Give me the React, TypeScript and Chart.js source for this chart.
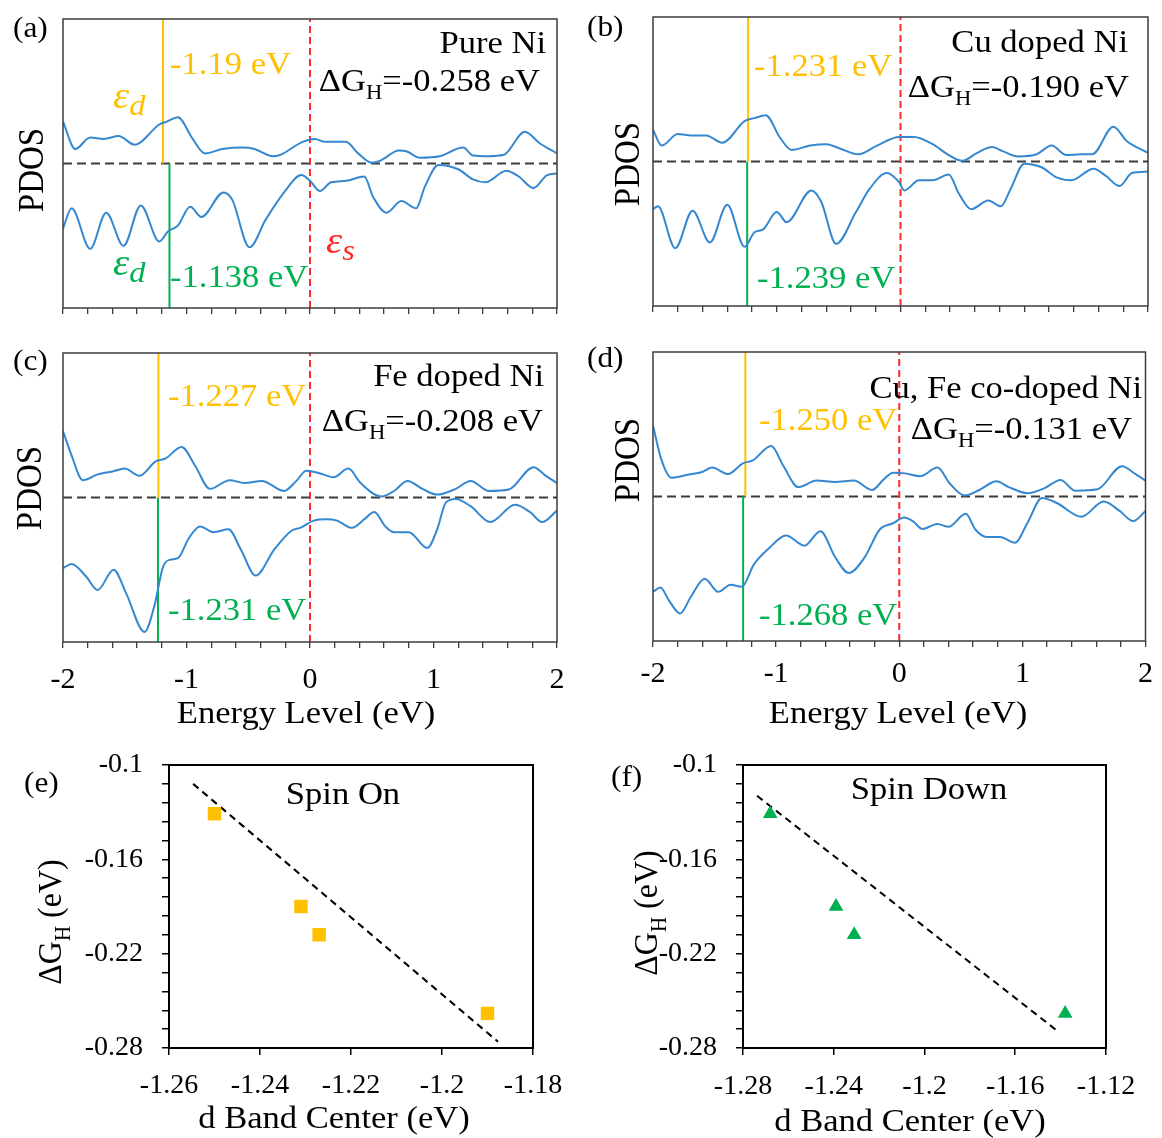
import React, { useEffect, useRef } from 'react';
import { Chart, registerables } from 'chart.js';

Chart.register(...registerables);

const W = 1162;
const H = 1138;
const SERIF = "'Liberation Serif', 'Times New Roman', Times, serif";
const BLUE = '#3588cf';
const GOLD = '#ffc000';
const GREEN = '#00b050';
const RED = '#ff2a2a';
const DARK = '#3c3c3c';
// the figure's lettering is set slightly wide
const TEXT_STRETCH = 1.08;

type Pt = [number, number];

// d-band PDOS (arbitrary units): spin up above the zero line, spin down below it.
const pureNiUp: Pt[] = [
  [-2, 0.29], [-1.9, 0.1], [-1.78, 0.18], [-1.67, 0.17], [-1.55, 0.19], [-1.42, 0.13],
  [-1.22, 0.27], [-1.16, 0.29], [-1.07, 0.32], [-0.95, 0.17], [-0.85, 0.07], [-0.71, 0.1],
  [-0.54, 0.11], [-0.45, 0.1], [-0.3, 0.05], [-0.24, 0.06], [-0.06, 0.15], [0.04, 0.17],
  [0.12, 0.15], [0.29, 0.15], [0.39, 0.07], [0.5, 0.005], [0.57, 0.02], [0.72, 0.09],
  [0.78, 0.085], [0.89, 0.04], [1.05, 0.05], [1.24, 0.11], [1.32, 0.055], [1.44, 0.05],
  [1.57, 0.06], [1.74, 0.22], [1.86, 0.14], [2, 0.07],
];
const pureNiDown: Pt[] = [
  [-2, -0.45], [-1.93, -0.31], [-1.78, -0.59], [-1.65, -0.34], [-1.51, -0.57], [-1.37, -0.29],
  [-1.22, -0.54], [-1.15, -0.47], [-1.07, -0.43], [-0.97, -0.3], [-0.88, -0.37], [-0.7, -0.2],
  [-0.63, -0.25], [-0.49, -0.58], [-0.36, -0.39], [-0.21, -0.2], [-0.07, -0.08], [0, -0.12],
  [0.08, -0.19], [0.17, -0.13], [0.29, -0.12], [0.44, -0.09], [0.51, -0.23], [0.62, -0.34],
  [0.74, -0.26], [0.86, -0.31], [0.93, -0.16], [1.04, -0.01], [1.2, -0.04], [1.32, -0.11],
  [1.42, -0.13], [1.59, -0.05], [1.69, -0.09], [1.81, -0.17], [1.92, -0.08], [2, -0.07],
];
const cuUp: Pt[] = [
  [-2, 0.22], [-1.93, 0.11], [-1.8, 0.19], [-1.69, 0.18], [-1.57, 0.18], [-1.44, 0.13],
  [-1.26, 0.28], [-1.18, 0.3], [-1.09, 0.32], [-0.97, 0.16], [-0.88, 0.08], [-0.73, 0.11],
  [-0.6, 0.12], [-0.49, 0.09], [-0.34, 0.05], [-0.19, 0.11], [-0.01, 0.17], [0.11, 0.17],
  [0.26, 0.12], [0.38, 0.05], [0.5, 0.005], [0.62, 0.06], [0.74, 0.1], [0.83, 0.07],
  [0.95, 0.035], [1.1, 0.05], [1.22, 0.11], [1.34, 0.045], [1.46, 0.05], [1.55, 0.05],
  [1.72, 0.24], [1.83, 0.14], [2, 0.06],
];
const cuDown: Pt[] = [
  [-2, -0.33], [-1.96, -0.31], [-1.82, -0.6], [-1.68, -0.34], [-1.54, -0.56], [-1.4, -0.3],
  [-1.26, -0.59], [-1.18, -0.49], [-1.11, -0.47], [-1, -0.35], [-0.92, -0.42], [-0.72, -0.2],
  [-0.64, -0.28], [-0.52, -0.57], [-0.36, -0.35], [-0.25, -0.19], [-0.11, -0.08], [-0.01, -0.145],
  [0.03, -0.2], [0.15, -0.13], [0.26, -0.13], [0.39, -0.09], [0.47, -0.22], [0.57, -0.33],
  [0.71, -0.27], [0.81, -0.31], [0.89, -0.19], [1, -0.015], [1.14, -0.04], [1.26, -0.11],
  [1.38, -0.13], [1.56, -0.05], [1.66, -0.1], [1.77, -0.17], [1.87, -0.08], [2, -0.07],
];
const feUp: Pt[] = [
  [-2, 0.46], [-1.93, 0.29], [-1.84, 0.12], [-1.72, 0.16], [-1.6, 0.18], [-1.5, 0.2],
  [-1.38, 0.15], [-1.25, 0.25], [-1.17, 0.27], [-1.04, 0.35], [-0.93, 0.22], [-0.81, 0.06],
  [-0.65, 0.12], [-0.53, 0.1], [-0.39, 0.115], [-0.21, 0.045], [-0.11, 0.115], [-0.03, 0.185],
  [0.07, 0.17], [0.19, 0.14], [0.31, 0.2], [0.41, 0.1], [0.58, 0.007], [0.68, 0.045],
  [0.79, 0.115], [0.91, 0.06], [1.03, 0.02], [1.18, 0.06], [1.3, 0.115], [1.45, 0.045],
  [1.61, 0.055], [1.81, 0.21], [1.91, 0.15], [2, 0.1],
];
const feDown: Pt[] = [
  [-2, -0.49], [-1.93, -0.46], [-1.81, -0.55], [-1.72, -0.64], [-1.59, -0.5], [-1.49, -0.66],
  [-1.34, -0.93], [-1.26, -0.75], [-1.19, -0.48], [-1.13, -0.43], [-1.07, -0.42], [-0.98, -0.28],
  [-0.89, -0.2], [-0.78, -0.24], [-0.66, -0.22], [-0.56, -0.36], [-0.44, -0.54], [-0.29, -0.36],
  [-0.15, -0.23], [-0.08, -0.21], [0.03, -0.16], [0.13, -0.15], [0.22, -0.16], [0.34, -0.21],
  [0.44, -0.15], [0.52, -0.1], [0.61, -0.2], [0.68, -0.24], [0.8, -0.24], [0.95, -0.35],
  [1.03, -0.22], [1.1, -0.035], [1.18, -0.01], [1.3, -0.06], [1.46, -0.17], [1.66, -0.05],
  [1.78, -0.1], [1.88, -0.17], [2, -0.09],
];
const cuFeUp: Pt[] = [
  [-2, 0.49], [-1.93, 0.25], [-1.85, 0.13], [-1.72, 0.15], [-1.6, 0.17], [-1.52, 0.2],
  [-1.39, 0.155], [-1.27, 0.23], [-1.19, 0.25], [-1.04, 0.35], [-0.94, 0.21], [-0.82, 0.065],
  [-0.67, 0.11], [-0.52, 0.1], [-0.37, 0.11], [-0.22, 0.045], [-0.13, 0.115], [-0.05, 0.165],
  [0.05, 0.16], [0.17, 0.14], [0.31, 0.2], [0.41, 0.09], [0.53, 0.007], [0.65, 0.045],
  [0.79, 0.105], [0.89, 0.065], [1.04, 0.023], [1.18, 0.058], [1.31, 0.115], [1.43, 0.04],
  [1.61, 0.05], [1.81, 0.21], [1.91, 0.16], [2, 0.11],
];
const cuFeDown: Pt[] = [
  [-2, -0.66], [-1.94, -0.63], [-1.87, -0.72], [-1.78, -0.81], [-1.69, -0.69], [-1.58, -0.57],
  [-1.47, -0.66], [-1.37, -0.61], [-1.28, -0.625], [-1.18, -0.47], [-1.06, -0.36], [-0.92, -0.27],
  [-0.77, -0.34], [-0.64, -0.24], [-0.52, -0.42], [-0.41, -0.53], [-0.28, -0.42], [-0.16, -0.23],
  [-0.05, -0.185], [0.04, -0.145], [0.11, -0.17], [0.19, -0.225], [0.31, -0.19], [0.4, -0.21],
  [0.54, -0.12], [0.62, -0.23], [0.71, -0.28], [0.82, -0.28], [0.94, -0.32], [1.04, -0.185],
  [1.16, -0.01], [1.28, -0.045], [1.48, -0.14], [1.66, -0.035], [1.79, -0.1], [1.9, -0.17],
  [2, -0.1],
];

const samples = ['Pure Ni', 'Cu doped Ni', 'Fe doped Ni', 'Cu, Fe co-doped Ni'];
const dCenterUp = [-1.19, -1.231, -1.227, -1.25];
const dCenterUpDigits = [2, 3, 3, 3];
const dCenterDown = [-1.138, -1.239, -1.231, -1.268];
const deltaGH = [-0.258, -0.19, -0.208, -0.131];
const energyTickLabels = [-2, -1, 0, 1, 2];

// Dashed guide lines of the two correlation plots (end points)
const trendUp: Pt[] = [[-1.2547, -0.112], [-1.1877, -0.276]];
const trendDown: Pt[] = [[-1.2738, -0.1196], [-1.142, -0.2685]];

const pdosUp = [pureNiUp, cuUp, feUp, cuFeUp];
const pdosDown = [pureNiDown, cuDown, feDown, cuFeDown];

type Run = { t: string; size: number; color?: string; italic?: boolean; dy?: number };
type TextItem = { x: number; y: number; align: 'left' | 'right' | 'center'; rot?: boolean; runs: Run[] };

function drawItem(ctx: CanvasRenderingContext2D, item: TextItem) {
  ctx.save();
  ctx.translate(item.x, item.y);
  ctx.scale(TEXT_STRETCH, 1);
  if (item.rot) ctx.rotate(-Math.PI / 2);
  ctx.textBaseline = 'alphabetic';
  ctx.textAlign = 'left';
  const fontOf = (r: Run) => `${r.italic ? 'italic ' : ''}${r.size}px ${SERIF}`;
  let total = 0;
  const widths = item.runs.map((r) => {
    ctx.font = fontOf(r);
    const w = ctx.measureText(r.t).width;
    total += w;
    return w;
  });
  let x = item.align === 'left' ? 0 : item.align === 'right' ? -total : -total / 2;
  item.runs.forEach((r, i) => {
    ctx.font = fontOf(r);
    ctx.fillStyle = r.color || '#000';
    ctx.fillText(r.t, x, r.dy || 0);
    x += widths[i];
  });
  ctx.restore();
}

const textLayer = (items: TextItem[]) => ({
  id: 'textLayer',
  afterDraw(chart: any) {
    items.forEach((it) => drawItem(chart.ctx, it));
  },
});

const frame = (color: string, width: number) => ({
  id: 'frame',
  afterDatasetsDraw(chart: any) {
    const { left, top, right, bottom } = chart.chartArea;
    const ctx = chart.ctx as CanvasRenderingContext2D;
    ctx.save();
    ctx.strokeStyle = color;
    ctx.lineWidth = width;
    ctx.setLineDash([]);
    ctx.strokeRect(left, top, right - left, bottom - top);
    ctx.restore();
  },
});

const lineDs = (pts: Pt[], color: string, width: number, dash: number[] = [], smooth = false) => ({
  data: pts.map(([x, y]) => ({ x, y })),
  borderColor: color,
  borderWidth: width,
  borderDash: dash,
  pointRadius: 0,
  fill: false,
  tension: 0,
  cubicInterpolationMode: smooth ? 'monotone' : 'default',
});

const dgRuns = (v: number): Run[] => [
  { t: 'ΔG', size: 32 },
  { t: 'H', size: 21, dy: 8 },
  { t: `=${v.toFixed(3)} eV`, size: 32 },
];

const epsRuns = (sub: string, color: string): Run[] => [
  { t: 'ε', size: 38, italic: true, color },
  { t: sub, size: 30, italic: true, color, dy: 7 },
];

const pdosLayout = [
  { area: [63, 19, 557, 308], letter: [13, 37], name: [546, 53], dg: [540, 91], up: [170, 74], down: [170, 287], pdos: [43, 170], xTitle: null as null | number[], tickPad: 0 },
  { area: [653, 17, 1148, 306], letter: [587, 36], name: [1128, 52], dg: [1129, 97], up: [754, 76], down: [757, 288], pdos: [639, 164], xTitle: null, tickPad: 0 },
  { area: [63, 353, 557, 642], letter: [13, 370], name: [544, 386], dg: [543, 431], up: [168, 406], down: [168, 620], pdos: [41, 488], xTitle: [306, 723], tickPad: 14 },
  { area: [653, 352, 1148, 641], letter: [587, 367], name: [1142, 398], dg: [1132, 439], up: [759, 430], down: [759, 625], pdos: [639, 460], xTitle: [898, 723], tickPad: 9 },
];

// sizes of the axis boxes; tick labels are clipped to them
const X_BOX = 64;
const Y_BOX = 90;

function pdosChart(i: number) {
  const lay = pdosLayout[i];
  const [L, T, R, B] = lay.area;
  const showLabels = lay.xTitle !== null;
  const items: TextItem[] = [
    { x: lay.letter[0], y: lay.letter[1], align: 'left', runs: [{ t: `(${'abcd'[i]})`, size: 29 }] },
    { x: lay.name[0], y: lay.name[1], align: 'right', runs: [{ t: samples[i], size: 32 }] },
    { x: lay.dg[0], y: lay.dg[1], align: 'right', runs: dgRuns(deltaGH[i]) },
    { x: lay.up[0], y: lay.up[1], align: 'left', runs: [{ t: `${dCenterUp[i].toFixed(dCenterUpDigits[i])} eV`, size: 32, color: GOLD }] },
    { x: lay.down[0], y: lay.down[1], align: 'left', runs: [{ t: `${dCenterDown[i].toFixed(3)} eV`, size: 32, color: GREEN }] },
    { x: lay.pdos[0], y: lay.pdos[1], align: 'center', rot: true, runs: [{ t: 'PDOS', size: 33 }] },
  ];
  if (lay.xTitle) {
    items.push({ x: lay.xTitle[0], y: lay.xTitle[1], align: 'center', runs: [{ t: 'Energy Level (eV)', size: 32 }] });
  }
  if (i === 0) {
    items.push({ x: 113, y: 108, align: 'left', runs: epsRuns('d', GOLD) });
    items.push({ x: 113, y: 275, align: 'left', runs: epsRuns('d', GREEN) });
    items.push({ x: 326, y: 253, align: 'left', runs: epsRuns('s', RED) });
  }
  return {
    type: 'line',
    data: {
      datasets: [
        lineDs(pdosUp[i], BLUE, 2, [], true),
        lineDs(pdosDown[i], BLUE, 2, [], true),
        lineDs([[dCenterUp[i], 0], [dCenterUp[i], 1]], GOLD, 2),
        lineDs([[dCenterDown[i], -1], [dCenterDown[i], 0]], GREEN, 2),
        lineDs([[0, -1], [0, 1]], RED, 2, [7, 4]),
        lineDs([[-2, 0], [2, 0]], DARK, 2, [9, 5]),
      ],
    },
    options: {
      responsive: false,
      animation: false,
      events: [],
      layout: { padding: { left: L, top: T, right: W - R, bottom: H - B - X_BOX } },
      plugins: { legend: { display: false }, tooltip: { enabled: false } },
      scales: {
        x: {
          type: 'linear',
          min: -2,
          max: 2,
          afterFit: (s: any) => { s.height = X_BOX; },
          border: { display: false },
          grid: { drawOnChartArea: false, drawTicks: true, tickLength: 6, color: DARK, lineWidth: 1.3 },
          ticks: {
            display: showLabels,
            stepSize: 0.2,
            autoSkip: false,
            maxRotation: 0,
            padding: lay.tickPad,
            color: '#000',
            font: { family: SERIF, size: 30 },
            callback: (v: number) => {
              const r = Math.round(v);
              return Math.abs(v - r) < 1e-6 && energyTickLabels.includes(r) ? String(r === 0 ? 0 : r) : '';
            },
          },
        },
        y: { type: 'linear', display: false, min: -1, max: 1 },
      },
    },
    plugins: [frame(DARK, 1.5), textLayer(items)],
  };
}

const scatterLayout = [
  { area: [169, 765, 533, 1048], letter: [24, 792], title: [343, 804], xTitle: [334, 1128], yTitle: [61, 922], xmin: -1.26, xmax: -1.18, xstep: 0.02, tickPad: 14 },
  { area: [743, 765, 1106, 1048], letter: [611, 786], title: [929, 799], xTitle: [910, 1131], yTitle: [657, 913], xmin: -1.28, xmax: -1.12, xstep: 0.04, tickPad: 15 },
];
const spinTitles = ['Spin On', 'Spin Down'];

const fmt = (v: number, d: number) => String(parseFloat(v.toFixed(d)));

function scatterChart(k: number) {
  const lay = scatterLayout[k];
  const [L, T, R, B] = lay.area;
  const xs = k === 0 ? dCenterUp : dCenterDown;
  const trend = k === 0 ? trendUp : trendDown;
  const color = k === 0 ? GOLD : GREEN;
  const items: TextItem[] = [
    { x: lay.letter[0], y: lay.letter[1], align: 'left', runs: [{ t: `(${'ef'[k]})`, size: 29 }] },
    { x: lay.title[0], y: lay.title[1], align: 'center', runs: [{ t: spinTitles[k], size: 32 }] },
    { x: lay.xTitle[0], y: lay.xTitle[1], align: 'center', runs: [{ t: 'd Band Center (eV)', size: 32 }] },
    {
      x: lay.yTitle[0], y: lay.yTitle[1], align: 'center', rot: true,
      runs: [{ t: 'ΔG', size: 32 }, { t: 'H', size: 21, dy: 8 }, { t: ' (eV)', size: 32 }],
    },
  ];
  return {
    type: 'scatter',
    data: {
      datasets: [
        {
          data: xs.map((x, i) => ({ x, y: deltaGH[i] })),
          pointStyle: k === 0 ? 'rect' : 'triangle',
          pointRadius: k === 0 ? 9.5 : 8.5,
          backgroundColor: color,
          borderColor: color,
          borderWidth: 0,
          showLine: false,
        },
        { ...lineDs(trend, '#000', 2, [7, 5]), showLine: true },
      ],
    },
    options: {
      responsive: false,
      animation: false,
      events: [],
      layout: { padding: { left: L - Y_BOX, top: T, right: W - R, bottom: H - B - X_BOX } },
      plugins: { legend: { display: false }, tooltip: { enabled: false } },
      scales: {
        x: {
          type: 'linear',
          min: lay.xmin,
          max: lay.xmax,
          afterFit: (s: any) => { s.height = X_BOX; },
          border: { display: false },
          grid: { drawOnChartArea: false, drawTicks: true, tickLength: 7, color: '#000', lineWidth: 1.5 },
          ticks: {
            stepSize: lay.xstep,
            autoSkip: false,
            maxRotation: 0,
            padding: lay.tickPad,
            color: '#000',
            font: { family: SERIF, size: 28 },
            callback: (v: number) => fmt(v, 2),
          },
        },
        y: {
          type: 'linear',
          min: -0.28,
          max: -0.1,
          afterFit: (s: any) => { s.width = Y_BOX; },
          border: { display: false },
          grid: { drawOnChartArea: false, drawTicks: true, tickLength: 7, color: '#000', lineWidth: 1.5 },
          ticks: {
            stepSize: 0.012,
            autoSkip: false,
            padding: 19,
            color: '#000',
            font: { family: SERIF, size: 28 },
            callback: (v: number, idx: number) => (idx % 5 === 0 ? fmt(v, 3) : ''),
          },
        },
      },
    },
    plugins: [frame('#000', 2), textLayer(items)],
  };
}

const builders = [
  () => pdosChart(0),
  () => pdosChart(1),
  () => pdosChart(2),
  () => pdosChart(3),
  () => scatterChart(0),
  () => scatterChart(1),
];

function ChartLayer({ build }: { build: () => any }) {
  const ref = useRef<HTMLCanvasElement | null>(null);
  useEffect(() => {
    const chart = new Chart(ref.current as HTMLCanvasElement, build());
    return () => chart.destroy();
  }, [build]);
  return <canvas ref={ref} width={W} height={H} style={{ position: 'absolute', left: 0, top: 0 }} />;
}

export default function App() {
  return (
    <div style={{ position: 'absolute', left: 0, top: 0, width: W, height: H, background: '#fff', overflow: 'hidden' }}>
      {builders.map((b, i) => (
        <ChartLayer key={i} build={b} />
      ))}
    </div>
  );
}
